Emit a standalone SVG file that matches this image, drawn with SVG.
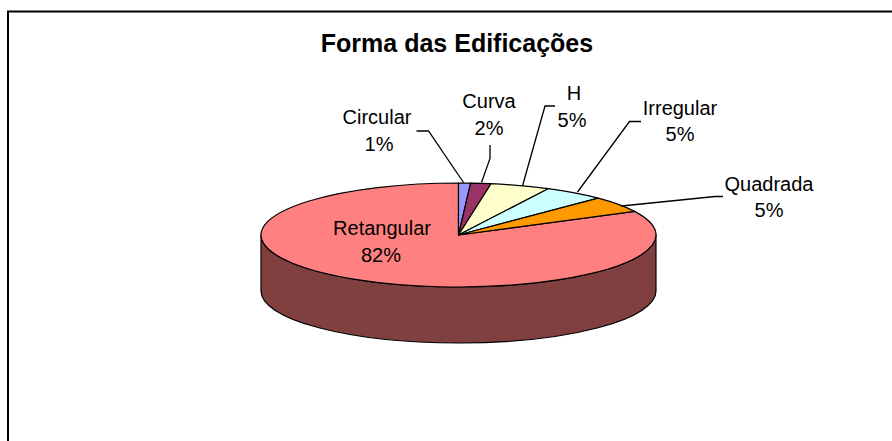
<svg xmlns="http://www.w3.org/2000/svg" width="892" height="441" viewBox="0 0 892 441">
<style>
text{font-family:"Liberation Sans",Arial,sans-serif;fill:#000}
.lbl{font-size:20px;text-anchor:middle}
.title{font-size:25px;font-weight:bold;text-anchor:middle}
.sl{stroke:#000;stroke-width:1.2;stroke-linejoin:round}
.ld{fill:none;stroke:#000;stroke-width:1.3}
</style>
<rect x="0" y="0" width="892" height="441" fill="#fff"/>
<rect x="8" y="11.5" width="900" height="440" fill="#fff" stroke="#000" stroke-width="2"/>
<text class="title" x="457" y="52">Forma das Edificações</text>
<g id="side">
<path class="sl" fill="#804040" d="M261,235 L261,291 A197.5 52 0 0 0 656,291 L656,235 A197.5 52 0 0 1 261,235 Z"/>
</g>
<g id="retangular">
<path class="sl" fill="#FF8080" d="M458.5,235 L634.5,211.4 A197.5 52 0 1 1 458.5,183 Z"/>
<text class="lbl" x="382" y="235">Retangular</text>
<text class="lbl" x="381" y="262">82%</text>
</g>
<g id="circular">
<path class="sl" fill="#9999FF" d="M458.5,235 L458.5,183 A197.5 52 0 0 1 470.6,183.1 Z"/>
<text class="lbl" x="377" y="124">Circular</text>
<text class="lbl" x="379" y="151">1%</text>
</g>
<g id="curva">
<path class="sl" fill="#993366" d="M458.5,235 L470.6,183.1 A197.5 52 0 0 1 491.1,183.7 Z"/>
<text class="lbl" x="489" y="108">Curva</text>
<text class="lbl" x="489" y="135">2%</text>
</g>
<g id="h">
<path class="sl" fill="#FFFFCC" d="M458.5,235 L491.1,183.7 A197.5 52 0 0 1 548.2,188.7 Z"/>
<text class="lbl" x="574" y="100">H</text>
<text class="lbl" x="572" y="127">5%</text>
</g>
<g id="irregular">
<path class="sl" fill="#CCFFFF" d="M458.5,235 L548.2,188.7 A197.5 52 0 0 1 598.2,198.2 Z"/>
<text class="lbl" x="680" y="115">Irregular</text>
<text class="lbl" x="680" y="141">5%</text>
</g>
<g id="quadrada">
<path class="sl" fill="#FF9900" d="M458.5,235 L598.2,198.2 A197.5 52 0 0 1 634.5,211.4 Z"/>
<text class="lbl" x="769" y="191">Quadrada</text>
<text class="lbl" x="769" y="217">5%</text>
</g>
<g id="connectors">
<polyline class="ld" points="416.5,131 428.5,131 463.5,182.5"/>
<polyline class="ld" points="490,145 490,158.5 481.5,182.5"/>
<polyline class="ld" points="555,106 545,106 522.5,186"/>
<polyline class="ld" points="641,121.5 629.5,121.5 577.5,192"/>
<polyline class="ld" points="723,196.5 715,196.5 621.5,206"/>
</g>
</svg>
